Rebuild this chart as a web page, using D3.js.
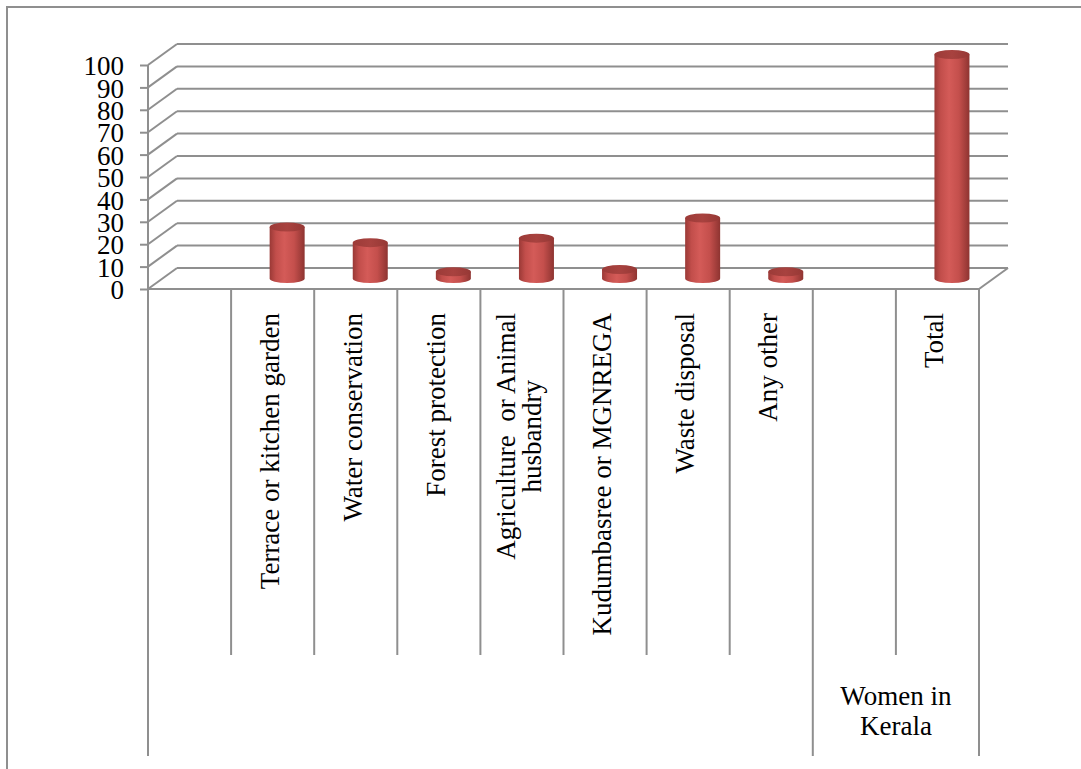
<!DOCTYPE html>
<html>
<head>
<meta charset="utf-8">
<script src="https://cdn.jsdelivr.net/npm/d3@7"></script>
<style>
  body { margin: 0; background: #fff; }
  svg { display: block; }
  text { font-family: "Liberation Serif", "Times New Roman", serif; fill: #000; }
</style>
</head>
<body>
<svg id="chart" width="1081" height="769"></svg>
<script>
// Activities of women in Kerala (percent of respondents)
const categories = [
  "",
  "Terrace or kitchen garden",
  "Water conservation",
  "Forest protection",
  "Agriculture  or Animal\nhusbandry",
  "Kudumbasree or MGNREGA",
  "Waste disposal",
  "Any other",
  "",
  "Total"
];
const values = [null, 23, 16, 3, 18, 4, 27, 3, null, 100];
const groupLabels = ["", "Women in\nKerala"];
const groupSizes = [8, 2];
const yTicks = [0, 10, 20, 30, 40, 50, 60, 70, 80, 90, 100];

const svg = d3.select("#chart");
const gridColor = "#8f8f8f";

// plot geometry: front plane + depth offset of the 3-D box
const plotL = 148, plotR = 979, plotB = 289, plotT = 65;
const depthX = 29, depthY = -21;

const x = d3.scaleBand().domain(d3.range(categories.length)).range([plotL, plotR]).padding(0);
const y = d3.scaleLinear().domain([0, 100]).range([plotB, plotT]);

// outer frame
svg.append("rect")
  .attr("x", 7).attr("y", 7).attr("width", 1100).attr("height", 800)
  .attr("fill", "none").attr("stroke", gridColor).attr("stroke-width", 2);

// gradients for the cylinders
const defs = svg.append("defs");
const body = defs.append("linearGradient").attr("id", "cylBody")
  .attr("x1", 0).attr("x2", 1).attr("y1", 0).attr("y2", 0);
[["0%", "#9a3936"], ["18%", "#c24e4b"], ["42%", "#d45b58"], ["70%", "#c44f4c"], ["100%", "#8e3431"]]
  .forEach(([o, c]) => body.append("stop").attr("offset", o).attr("stop-color", c));
const cap = defs.append("linearGradient").attr("id", "cylTop")
  .attr("x1", 0).attr("x2", 1).attr("y1", 0).attr("y2", 0);
[["0%", "#9c3b38"], ["50%", "#a8423f"], ["100%", "#963835"]]
  .forEach(([o, c]) => cap.append("stop").attr("offset", o).attr("stop-color", c));

// back wall gridlines
const grid = svg.append("g").attr("stroke", gridColor).attr("stroke-width", 2).attr("fill", "none");
grid.selectAll("line.back").data(yTicks).join("line").attr("class", "back")
  .attr("x1", plotL + depthX).attr("x2", plotR + depthX)
  .attr("y1", d => y(d) + depthY).attr("y2", d => y(d) + depthY);
// side wall diagonals
grid.selectAll("line.side").data(yTicks).join("line").attr("class", "side")
  .attr("x1", plotL).attr("y1", d => y(d))
  .attr("x2", plotL + depthX).attr("y2", d => y(d) + depthY);
// floor right edge
grid.append("line")
  .attr("x1", plotR).attr("y1", y(0))
  .attr("x2", plotR + depthX).attr("y2", y(0) + depthY);

// value axis
const yAxis = svg.append("g").attr("transform", `translate(${plotL},0)`)
  .call(d3.axisLeft(y).tickValues(yTicks).tickSize(8).tickPadding(16).tickFormat(d3.format("d")));
yAxis.selectAll("line, path").attr("stroke", gridColor).attr("stroke-width", 2);
yAxis.select(".domain").attr("d", `M0,${plotT}V${plotB}`);
yAxis.selectAll("text")
  .attr("font-size", 27).attr("dy", "0.36em")
  .style("font-family", "'Liberation Serif', serif").attr("fill", "#000");

// category axis line
svg.append("line").attr("x1", plotL).attr("x2", plotR)
  .attr("y1", plotB).attr("y2", plotB)
  .attr("stroke", gridColor).attr("stroke-width", 2);

// category dividers: inner (category) and outer (group) levels
const innerBottom = 655, outerBottom = 756;
const groupEdges = [0];
groupSizes.forEach(s => groupEdges.push(groupEdges[groupEdges.length - 1] + s));
const edgeX = i => (i < categories.length ? x(i) : x(categories.length - 1) + x.bandwidth());
svg.append("g").selectAll("line").data(d3.range(categories.length + 1)).join("line")
  .attr("x1", edgeX).attr("x2", edgeX)
  .attr("y1", plotB)
  .attr("y2", i => groupEdges.includes(i) ? outerBottom : innerBottom)
  .attr("stroke", gridColor).attr("stroke-width", 2);

// rotated category labels
const fs = 27, lineH = 26;
const labels = svg.append("g");
categories.forEach((c, i) => {
  if (!c) return;
  const lines = c.split("\n");
  const cx = x(i) + x.bandwidth() / 2;
  const t = labels.append("text")
    .attr("transform", `translate(${cx},${plotB + 24}) rotate(-90)`)
    .attr("font-size", fs)
    .style("white-space", "pre");
  lines.forEach((l, k) => {
    const off = 6 + (k - (lines.length - 1) / 2) * lineH;
    t.append("tspan").attr("x", 0).attr("y", off)
      .attr("text-anchor", lines.length > 1 && k > 0 ? "middle" : "end")
      .text(l);
  });
  // center extra lines on the first (longest) line
  if (lines.length > 1) {
    const w = t.select("tspan").node().getComputedTextLength();
    t.selectAll("tspan").filter((d, k) => k > 0).attr("x", -w / 2);
  }
});

// group labels
groupLabels.forEach((g, gi) => {
  if (!g) return;
  const x0 = edgeX(groupEdges[gi]), x1 = edgeX(groupEdges[gi + 1]);
  const t = svg.append("text").attr("font-size", fs).attr("text-anchor", "middle");
  g.split("\n").forEach((l, k) => {
    t.append("tspan").attr("x", (x0 + x1) / 2).attr("y", 705 + k * 30).text(l);
  });
});

// cylinders, placed at mid-depth
const rx = 17.5, ry = 4.5;
const bars = svg.append("g");
values.forEach((v, i) => {
  if (v == null) return;
  const cx = x(i) + x.bandwidth() / 2 + depthX / 2;
  const base = y(0) + depthY / 2;
  const topY = y(v) + depthY / 2;
  bars.append("path")
    .attr("d", `M${cx - rx},${topY}V${base}A${rx},${ry} 0 0 0 ${cx + rx},${base}V${topY}Z`)
    .attr("fill", "url(#cylBody)");
  bars.append("ellipse")
    .attr("cx", cx).attr("cy", topY).attr("rx", rx).attr("ry", ry)
    .attr("fill", "url(#cylTop)");
});
</script>
</body>
</html>
